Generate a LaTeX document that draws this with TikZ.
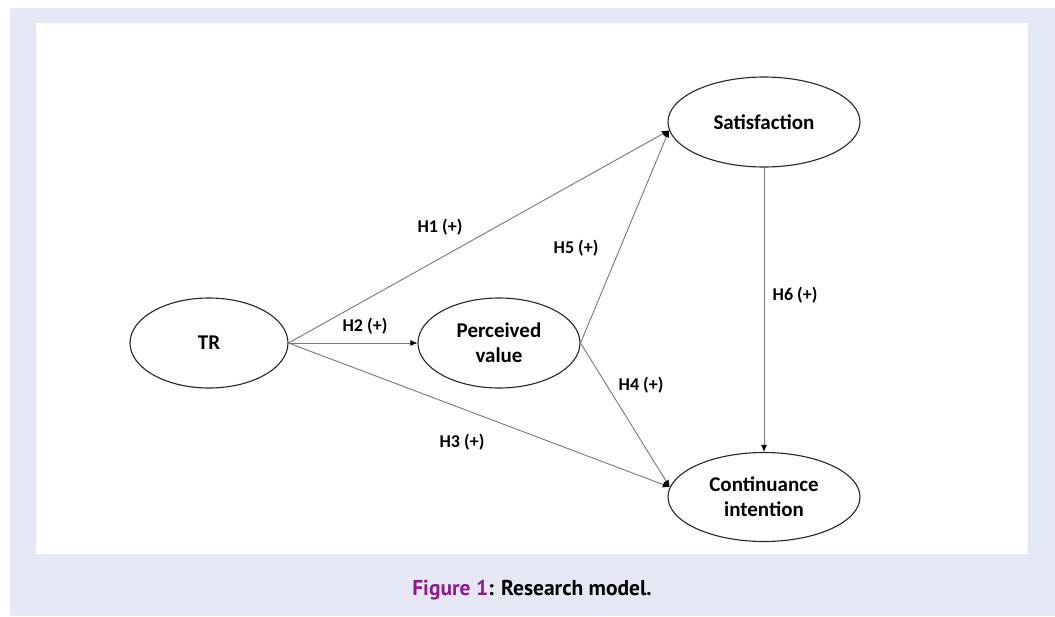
\documentclass[tikz,border=0pt]{standalone}
\usepackage{fontspec}
\setmainfont{Carlito}
\newfontfamily\capfont{PT Sans}
\usetikzlibrary{shapes.geometric,arrows.meta}
\definecolor{panel}{RGB}{230,233,245}
\definecolor{figpurple}{RGB}{140,28,140}
\definecolor{linegray}{RGB}{120,120,120}
\begin{document}
\begin{tikzpicture}[x=1pt,y=-1pt, line join=round,
    construct/.style={ellipse,draw=black!85,line width=1.1pt,inner sep=0pt,
        font=\fontsize{21}{25}\selectfont\bfseries,align=center},
    hyp/.style={font=\fontsize{18}{21}\selectfont\bfseries},
    path/.style={draw=linegray,line width=0.9pt,-{Latex[length=7pt,width=6pt,black]}}]
    \useasboundingbox (0,0) rectangle (1055,616);
    \fill[white] (0,0) rectangle (1055,616);
    \fill[panel] (10,8) rectangle (1055,616);
    \fill[white] (36,23) rectangle (1028,554);
    % constructs
    \node[construct,minimum width=158pt,minimum height=90pt] (tr) at (209,343) {TR};
    \node[construct,minimum width=162pt,minimum height=90pt] (pv) at (499,343) {Perceived\\value};
    \node[construct,minimum width=192pt,minimum height=90pt] (sat) at (764,122) {Satisfaction};
    \node[construct,minimum width=192pt,minimum height=89pt] (ci) at (764,497) {Continuance\\intention};
    % paths
    \draw[path] (tr.east) -- (sat.185);
    \draw[path] (tr.east) -- (pv.west);
    \draw[path] (tr.east) -- (ci.174);
    \draw[path] (pv.east) -- (sat.185);
    \draw[path] (pv.east) -- (ci.174);
    \draw[path] (sat.south) -- (ci.north);
    % hypotheses
    \node[hyp] (h1) at (440,227) {H1 (+)};
    \node[hyp] (h2) at (365,326) {H2 (+)};
    \node[hyp] (h3) at (462,442) {H3 (+)};
    \node[hyp] (h4) at (641,385) {H4 (+)};
    \node[hyp] (h5) at (576,248) {H5 (+)};
    \node[hyp] (h6) at (795,295) {H6 (+)};
    \node[font=\capfont\fontsize{21.5}{25}\selectfont\bfseries] (cap) at (532,590)
        {\textcolor{figpurple}{Figure 1}: Research model.};
\end{tikzpicture}
\end{document}
